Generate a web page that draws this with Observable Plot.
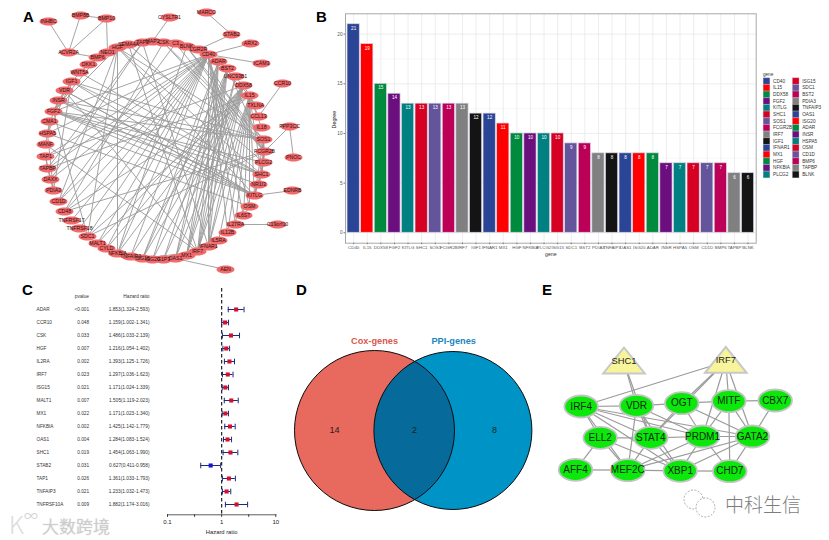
<!DOCTYPE html>
<html><head><meta charset="utf-8">
<style>
html,body{margin:0;padding:0;background:#fff}
#page{position:relative;width:829px;height:540px;overflow:hidden;font-family:"Liberation Sans",Arial,sans-serif}
#page>svg,#page>div{position:absolute}
.letter{font-weight:700;font-size:15px;line-height:15px;color:#000}
</style>
<script src="https://cdn.jsdelivr.net/npm/d3@7"></script>
<script src="https://cdn.jsdelivr.net/npm/@observablehq/plot@0.6"></script>
</head><body><div id="page"></div>
<script>
// ---------- Panel A: gene network, node positions
const ppiNames = ["INHBC","BMP8B","BMP10","ACVR2A","NEO1","BMP6","HGF","SEMA4A","TAP2","MAP2","CSK","C3","BLNK","LGR2R","CD40","ADAR","BST2","UNC93B1","DDX58","IL15","TXLNA","CCL13","IL18","SOS1","FCGR2B","PLCG2","SHC1","NR1I3","KITLG","OSM","IL6ST","IL27RA","IL12B","IL5RA","IFNAR1","IRF7","MX1","OAS1","G1P3","ISG20","ISG15","TNFAIP3","NFKBIA","CYLD","MALT1","SDC1","TNFRSF18","TNFRSF17","CD48","CD1D","PDIA3","DAXX","TAPBP","TAP1","MANF","HSPA5","CMA1","FGF2","INSR","VDR","IGF1","WNT5A","DKK1","CYSLTR1","MARCO","STAB2","ARX2","ICAM3","CCR10","PPP3CC","PNOC","EDNRB","C19orf10","AEN"];
const ppiX = [48,80,106,68,107,97,117,128,142,152,163,175,186,198,208,218,227,235,243,249,255,258,261,263,264,263,261,258,254,249,243,235,227,218,208,197,186,175,163,152,142,130,117,106,97,87,79,71,64,58,53,50,47,45,45,47,49,53,58,64,71,79,88,169,206,231,250,261,282,289,293,292,277,225];
const ppiY = [21,15,18,52,52,57,47,44,42,41,42,43,46,49,54,61,68,76,85,95,105,116,127,139,151,162,174,184,195,206,215,224,232,240,246,251,255,258,259,259,258,256,253,248,243,236,228,220,211,201,190,179,168,156,144,133,121,111,100,90,81,72,64,17,12,34,43,63,83,126,157,190,224,269];
const ppiEdges = ("INHBC-ACVR2A BMP8B-ACVR2A BMP8B-BMP10 BMP10-ACVR2A BMP10-NEO1 ACVR2A-BMP6 CYSLTR1-MAP2 MARCO-STAB2 STAB2-LGR2R ARX2-CD40 ICAM3-CD40 CCR10-CCL13 PPP3CC-PNOC PPP3CC-FCGR2B EDNRB-KITLG C19orf10-IL27RA AEN-OAS1 "
+"CD40-TAP1 CD40-TAPBP CD40-CD1D CD40-CD48 CD40-TNFRSF17 CD40-TNFRSF18 CD40-SDC1 CD40-MALT1 CD40-CYLD CD40-NFKBIA CD40-OSM CD40-IL27RA CD40-IL12B CD40-IL6ST CD40-IL15 CD40-FGF2 CD40-HSPA5 CD40-TNFAIP3 CD40-IFNAR1 CD40-DAXX "
+"ADAR-IFNAR1 ADAR-MX1 ADAR-OAS1 ADAR-IRF7 ADAR-ISG15 ADAR-ISG20 ADAR-DDX58 BST2-IRF7 BST2-IFNAR1 BST2-MX1 BST2-OAS1 BST2-ISG15 BST2-G1P3 BST2-FCGR2B UNC93B1-IRF7 UNC93B1-MX1 "
+"DDX58-IRF7 DDX58-MX1 DDX58-OAS1 DDX58-ISG15 DDX58-ISG20 DDX58-IFNAR1 DDX58-TNFAIP3 DDX58-NFKBIA DDX58-IL15 DDX58-CYLD DDX58-G1P3 DDX58-MALT1 DDX58-TAP1 "
+"IL15-IL5RA IL15-IL12B IL15-IL27RA IL15-IL6ST IL15-OSM IL15-KITLG IL15-SHC1 IL15-IFNAR1 IL15-IRF7 IL15-CCL13 IL15-IL18 IL15-TXLNA IL15-CD48 IL15-TAPBP IL15-SDC1 "
+"FGF2-IGF1 FGF2-HGF FGF2-KITLG FGF2-SHC1 FGF2-SOS1 FGF2-PLCG2 FGF2-NR1I3 FGF2-BMP6 FGF2-INSR FGF2-VDR FGF2-HSPA5 FGF2-SDC1 "
+"KITLG-IGF1 KITLG-SHC1 KITLG-SOS1 KITLG-PLCG2 KITLG-HGF KITLG-INSR KITLG-VDR SHC1-IGF1 SHC1-INSR SHC1-SOS1 SHC1-PLCG2 SHC1-FCGR2B SHC1-HGF SHC1-NR1I3 SHC1-WNT5A "
+"SOS1-IGF1 SOS1-INSR SOS1-HGF SOS1-PLCG2 SOS1-FCGR2B SOS1-BLNK SOS1-CSK FCGR2B-BLNK FCGR2B-PLCG2 FCGR2B-CSK FCGR2B-CD48 FCGR2B-C3 FCGR2B-SDC1 FCGR2B-LGR2R "
+"IGF1-INSR IGF1-HSPA5 IGF1-PDIA3 IGF1-DKK1 PDIA3-HSPA5 PDIA3-TAPBP TAP1-TAPBP TAP1-PDIA3 CMA1-HSPA5 CMA1-KITLG TNFAIP3-NFKBIA TNFAIP3-CYLD MALT1-NFKBIA HGF-SDC1 HGF-NFKBIA HGF-CD1D SEMA4A-IRF7 "
+"OSM-IL6ST OSM-HSPA5 VDR-IRF7 VDR-KITLG TAP2-TAPBP TAP2-IFNAR1 TAP2-DAXX NEO1-DKK1 MANF-HSPA5 MANF-IRF7 BLNK-NFKBIA CSK-CD48 C3-CD1D IRF7-ISG15 MX1-OAS1 WNT5A-DKK1 SEMA4A-PLCG2").split(" ");

// ---------- Panel B: degree of each gene
const genes = ["CD40","IL15","DDX58","FGF2","KITLG","SHC1","SOS1","FCGR2B","IRF7","IGF1","IFNAR1","MX1","HGF","NFKBIA","PLCG2","ISG15","SDC1","BST2","PDIA3","TNFAIP3","OAS1","ISG20","ADAR","INSR","HSPA5","OSM","CD1D","BMP6","TAPBP","BLNK"];
const degrees = [21,19,15,14,13,13,13,13,13,12,12,11,10,10,10,10,9,9,8,8,8,8,8,7,7,7,7,7,6,6];
const palette = ["#2B4596","#FF0000","#008A3E","#6B0F7F","#008080","#D60022","#63549C","#BC0058","#808080","#141414"];

// ---------- Panel C: Cox forest plot
const coxGenes = ["ADAR","CCR10","CSK","HGF","IL2RA","IRF7","ISG15","MALT1","MX1","NFKBIA","OAS1","SHC1","STAB2","TAP1","TNFAIP3","TNFRSF10A"];
const coxP = ["<0.001","0.048","0.033","0.007","0.002","0.023","0.021","0.007","0.022","0.002","0.004","0.019","0.031","0.026","0.021","0.009"];
const coxHR = [1.853,1.159,1.486,1.216,1.393,1.297,1.171,1.505,1.171,1.425,1.284,1.454,0.627,1.361,1.233,1.882];
const coxLow = [1.324,1.002,1.033,1.054,1.125,1.036,1.024,1.119,1.023,1.142,1.083,1.063,0.411,1.033,1.032,1.174];
const coxHigh = ["2.593","1.341","2.139","1.402","1.726","1.623","1.339","2.023","1.340","1.779","1.524","1.990","0.958","1.793","1.473","3.016"];

// ---------- Panel D: Venn counts
const vennSets = ["Cox-genes","PPI-genes"];
const vennSetColors = ["#D9574C","#1B86C0"];
const vennCounts = [14,2,8];

// ---------- Panel E: TF network
const tfNames = ["IRF4","VDR","OGT","MITF","CBX7","ELL2","STAT4","PRDM1","GATA2","AFF4","MEF2C","XBP1","CHD7"];
const tfX = [580.7,636,681.3,728.3,774.7,599.7,650.3,702,752,575,627.3,679.7,729.3];
const tfY = [406,405.3,402.7,400.7,400,437.3,437.3,436,436,469.3,469.7,470.3,470.7];
const hubNames = ["SHC1","IRF7"];
const hubX = [623.5,725.3];
const hubY = [361.7,361];
const tfEdges = ("IRF7-IRF4 IRF7-OGT IRF7-MITF IRF7-PRDM1 IRF7-STAT4 IRF7-GATA2 SHC1-VDR SHC1-STAT4 IRF4-VDR IRF4-PRDM1 IRF4-GATA2 IRF4-ELL2 IRF4-STAT4 IRF4-MEF2C IRF4-XBP1 VDR-OGT VDR-STAT4 VDR-PRDM1 VDR-MEF2C VDR-XBP1 OGT-MITF OGT-STAT4 OGT-PRDM1 OGT-GATA2 MITF-CBX7 MITF-PRDM1 MITF-GATA2 MITF-CHD7 CBX7-GATA2 ELL2-STAT4 ELL2-AFF4 ELL2-MEF2C ELL2-XBP1 STAT4-PRDM1 STAT4-MEF2C STAT4-XBP1 PRDM1-GATA2 PRDM1-MEF2C PRDM1-XBP1 PRDM1-CHD7 GATA2-MEF2C GATA2-XBP1 GATA2-CHD7 AFF4-MEF2C MEF2C-XBP1 XBP1-CHD7").split(" ");

// ---------- helpers
const page = document.getElementById("page");
const FONT = '"Liberation Sans",Arial,sans-serif';
function place(node, left, top){
  node.style.left = left + "px"; node.style.top = top + "px";
  node.style.overflow = "visible"; node.style.background = "transparent";
  page.appendChild(node);
}
const base = {style:{fontFamily:FONT, background:"transparent"}};
const ellipse = (rx, ry) => ({draw(c){
  const k = 0.5523;
  c.moveTo(rx,0);
  c.bezierCurveTo(rx,ry*k,rx*k,ry,0,ry);
  c.bezierCurveTo(-rx*k,ry,-rx,ry*k,-rx,0);
  c.bezierCurveTo(-rx,-ry*k,-rx*k,-ry,0,-ry);
  c.bezierCurveTo(rx*k,-ry,rx,-ry*k,rx,0);
  c.closePath();
}});
const triangle = {draw(c){ c.moveTo(0,-14.7); c.lineTo(20.8,11.3); c.lineTo(-20.8,11.3); c.closePath(); }};
const cap = {draw(c){ c.moveTo(0,-2.8); c.lineTo(0,2.8); }};
const letter = (t, x, y) => { const d = document.createElement("div"); d.className="letter"; d.textContent=t; d.style.left=x+"px"; d.style.top=y+"px"; page.appendChild(d); };

// ---------- A
const ppiNodes = ppiNames.map((name,i)=>({name,x:ppiX[i],y:ppiY[i]}));
const ppiIdx = new Map(ppiNodes.map(n=>[n.name,n]));
const ppiLinks = ppiEdges.map(e=>e.split("-")).map(([a,b])=>({a:ppiIdx.get(a),b:ppiIdx.get(b)})).filter(l=>l.a&&l.b);
place(Plot.plot({...base, width:310, height:280, margin:0,
  x:{domain:[0,310],range:[0,310],axis:null}, y:{domain:[0,280],range:[0,280],axis:null},
  marks:[
    Plot.link(ppiLinks,{x1:d=>d.a.x,y1:d=>d.a.y,x2:d=>d.b.x,y2:d=>d.b.y,stroke:"#9a9a9a",strokeWidth:0.9}),
    Plot.dot(ppiNodes,{x:"x",y:"y",symbol:ellipse(9,4),fill:"#F26A6C",stroke:"none"}),
    Plot.text(ppiNodes,{x:"x",y:"y",text:"name",fontSize:5.2,fill:"#2a1010"})
  ]}),0,0);

// ---------- B
const degData = genes.map((gene,i)=>({gene,degree:degrees[i]}));
const W_B = 519;
place(Plot.plot({...base, width:W_B, height:270,
  marginLeft:35, marginRight:W_B-445.7, marginTop:13.3, marginBottom:270-242.7,
  x:{type:"band",domain:genes,range:[35,445.7],paddingInner:0.1,paddingOuter:0.15,round:false,axis:null},
  y:{domain:[-1.05,22.05],range:[242.7,13.3],axis:null},
  color:{type:"ordinal",domain:genes,range:palette},
  marks:[
    Plot.ruleY([2.5,7.5,12.5,17.5],{stroke:"#f1f1f1",strokeWidth:0.6}),
    Plot.ruleY([0,5,10,15,20],{stroke:"#e8e8e8",strokeWidth:0.8}),
    Plot.ruleX(genes,{x:d=>d,stroke:"#e8e8e8",strokeWidth:0.8}),
    Plot.barY(degData,{x:"gene",y:"degree",fill:"gene",stroke:"#d9d4e6",strokeWidth:0.7}),
    Plot.text(degData,{x:"gene",y:"degree",text:"degree",dy:4,fill:"#fff",fontSize:4.6}),
    Plot.frame({stroke:"#a8a8a8",strokeWidth:1}),
    Plot.axisX({anchor:"bottom",label:null,tickSize:1.5,tickPadding:1,fontSize:4.4,fill:"#555",stroke:"#777"}),
    Plot.axisY({anchor:"left",label:null,ticks:[0,5,10,15,20],tickSize:1.5,tickPadding:1.5,fontSize:4.7,fill:"#555",stroke:"#777"}),
    Plot.text(["Degree"],{frameAnchor:"left",dx:-11,rotate:-90,fontSize:5.4,fill:"#222"}),
    Plot.text(["gene"],{frameAnchor:"bottom",dy:12.5,fontSize:5.2,fill:"#333"})
  ]}),310,0);

// legend for B
const legendData = genes.map((gene,i)=>({gene,col:i<15?0:1,row:i%15}));
place(Plot.plot({...base, width:75, height:130, margin:0,
  x:{domain:[0,1],range:[13,42.2],axis:null},
  y:{domain:[-1,14],range:[4.9,105],axis:null},
  color:{type:"ordinal",domain:genes,range:palette},
  marks:[
    Plot.dot(legendData,{x:"col",y:"row",fill:"gene",symbol:"square",r:3.8,stroke:"#e4e0ec",strokeWidth:0.3}),
    Plot.text(legendData,{x:"col",y:"row",text:"gene",dx:6.5,textAnchor:"start",fontSize:4.7,fill:"#333"}),
    Plot.text([{col:0,row:-1}],{x:"col",y:"row",text:()=>"gene",dx:-3.6,textAnchor:"start",fontSize:4.7,fill:"#333"})
  ]}),753,69);

// ---------- C
const coxRows = coxGenes.map((gene,i)=>({gene,p:coxP[i],hr:coxHR[i],low:coxLow[i],high:+coxHigh[i],
  label:`${coxHR[i].toFixed(3)}(${coxLow[i].toFixed(3)}-${coxHigh[i]})`}));
const M = 167;
const headerY = "header";
place(Plot.plot({...base, width:290, height:260,
  marginLeft:M, marginRight:14.7, marginTop:8, marginBottom:25.7,
  x:{type:"log",domain:[0.1,10],range:[167,275.3],axis:null},
  y:{type:"point",domain:[headerY,...coxGenes],range:[15.1,225.7],padding:0,axis:null},
  marks:[
    Plot.frame({anchor:"bottom",stroke:"#333",strokeWidth:0.8}),
    Plot.axisX({anchor:"bottom",label:null,ticks:[0.1,0.316,1,3.16,10],tickFormat:d=>(d===0.1||d===1||d===10)?String(d):"",tickSize:2.5,tickPadding:2,fontSize:6,fill:"#222",stroke:"#333"}),
    Plot.ruleX([1],{stroke:"#222",strokeWidth:1.2,strokeDasharray:"3.5,2.5"}),
    Plot.ruleY(coxRows,{y:"gene",x1:"low",x2:"high",stroke:"#1C2A7C",strokeWidth:1}),
    Plot.dot(coxRows,{x:"low",y:"gene",symbol:cap,stroke:"#1C2A7C",strokeWidth:1}),
    Plot.dot(coxRows,{x:"high",y:"gene",symbol:cap,stroke:"#1C2A7C",strokeWidth:1}),
    Plot.dot(coxRows,{x:"hr",y:"gene",symbol:"square",r:2.3,fill:d=>d.hr<1?"#1414D2":"#D0102E",stroke:"none"}),
    Plot.text(coxRows,{y:"gene",text:"gene",frameAnchor:"left",dx:36-M,textAnchor:"start",fontSize:4.7,fill:"#333"}),
    Plot.text(coxRows,{y:"gene",text:"p",frameAnchor:"left",dx:88.5-M,textAnchor:"end",fontSize:4.7,fill:"#333"}),
    Plot.text(coxRows,{y:"gene",text:"label",frameAnchor:"left",dx:149-M,textAnchor:"end",fontSize:4.8,fill:"#333"}),
    Plot.text([headerY],{y:d=>d,text:()=>"pvalue",frameAnchor:"left",dx:88.5-M,textAnchor:"end",fontSize:4.8,fill:"#333"}),
    Plot.text([headerY],{y:d=>d,text:()=>"Hazard ratio",frameAnchor:"left",dx:149-M,textAnchor:"end",fontSize:4.8,fill:"#333"}),
    Plot.text(["Hazard ratio"],{frameAnchor:"bottom",dy:19,fontSize:5.8,fill:"#222"})
  ]}),0,280);

// ---------- D
const rLeft = 80, rRight = 79, dLeft = 40, dRight = 38.5;
const dist = dLeft + dRight;
const aa = (dist*dist + rLeft*rLeft - rRight*rRight) / (2*dist);
const hh = Math.sqrt(rLeft*rLeft - aa*aa);
const lens = {draw(c){
  const A = Math.atan2(hh, aa), B = Math.atan2(hh, dist-aa);
  c.moveTo(-dLeft + aa, -hh);
  c.arc(-dLeft,0,rLeft,-A,A,false);
  c.arc(dRight,0,rRight,Math.PI-B,Math.PI+B,false);
  c.closePath();
}};
const vennRegions = vennCounts.map((n,i)=>({n,i}));
place(Plot.plot({...base, width:240, height:260, margin:0,
  x:{domain:[0,2],range:[44,204],axis:null},
  y:{type:"point",domain:["title","venn"],range:[61,150.5],padding:0,axis:null},
  marks:[
    Plot.dot([0.5],{x:d=>d,y:()=>"venn",r:rLeft,fill:"#E8695D",stroke:"none"}),
    Plot.dot([1.48],{x:d=>d,y:()=>"venn",r:rRight,fill:"#0093C6",stroke:"none"}),
    Plot.dot([1],{x:d=>d,y:()=>"venn",symbol:lens,fill:"#066A9B",stroke:"none"}),
    Plot.dot([0.5],{x:d=>d,y:()=>"venn",r:rLeft,fill:"none",stroke:"#0b0b0b",strokeWidth:1}),
    Plot.dot([1.48],{x:d=>d,y:()=>"venn",r:rRight,fill:"none",stroke:"#0b0b0b",strokeWidth:1}),
    Plot.text(vennRegions,{x:"i",y:()=>"venn",text:"n",fontSize:9,fill:"#222"}),
    Plot.text(vennSets,{x:(d,i)=>[0.5,1.49][i],y:()=>"title",text:d=>d,fontSize:9.2,fontWeight:"bold",fill:(d,i)=>vennSetColors[i]})
  ]}),290,280);

// ---------- E
const tfNodes = tfNames.map((name,i)=>({name,x:tfX[i],y:tfY[i]}));
const hubNodes = hubNames.map((name,i)=>({name,x:hubX[i],y:hubY[i]}));
const tfIdx = new Map([...tfNodes,...hubNodes].map(n=>[n.name,n]));
const tfLinks = tfEdges.map(e=>e.split("-")).map(([a,b])=>({a:tfIdx.get(a),b:tfIdx.get(b)}));
place(Plot.plot({...base, width:299, height:260, margin:0,
  x:{domain:[530,829],range:[0,299],axis:null}, y:{domain:[280,540],range:[0,260],axis:null},
  marks:[
    Plot.link(tfLinks,{x1:d=>d.a.x,y1:d=>d.a.y,x2:d=>d.b.x,y2:d=>d.b.y,stroke:"#9b9b9b",strokeWidth:1.2}),
    Plot.dot(hubNodes,{x:"x",y:"y",symbol:triangle,fill:"#F8F49C",stroke:"#c8c8c8",strokeWidth:2}),
    Plot.dot(tfNodes,{x:"x",y:"y",symbol:ellipse(16.8,11),fill:"#0CE80C",stroke:"#c4c4c4",strokeWidth:1.8}),
    Plot.text(tfNodes,{x:"x",y:"y",text:"name",fontSize:10,fill:"#0a2a0a"}),
    Plot.text(hubNodes,{x:"x",y:"y",text:"name",dy:-1.5,fontSize:9.4,fill:"#222"}),
    Plot.dot([[693,499],[705,507]],{x:d=>d[0],y:d=>d[1],r:9.5,fill:"#fff",stroke:"#999",strokeWidth:0.8,strokeDasharray:"2,1.5"})
  ]}),530,280);

// panel letters
letter("A",23,9); letter("B",316,9); letter("C",22,282); letter("D",296,282); letter("E",542,282);

// watermarks
const wm = (t,x,y,size,color,extra) => { const d=document.createElement("div"); d.textContent=t;
  d.style.cssText=`left:${x}px;top:${y}px;font-family:"Noto Sans CJK SC";font-size:${size}px;line-height:${size}px;color:${color};white-space:nowrap;${extra||""}`; page.appendChild(d); };
wm("大数跨境",42,517,17,"#cfcfcf","font-weight:300;text-shadow:0 0 1px #aaa");
wm("K",9,512,24,"#dcdcdc","font-weight:300");
wm("∞",24,508,14,"#d4d4d4");
wm("中科生信",725,494,19,"#7d7d7d","font-weight:300");
</script></body></html>
